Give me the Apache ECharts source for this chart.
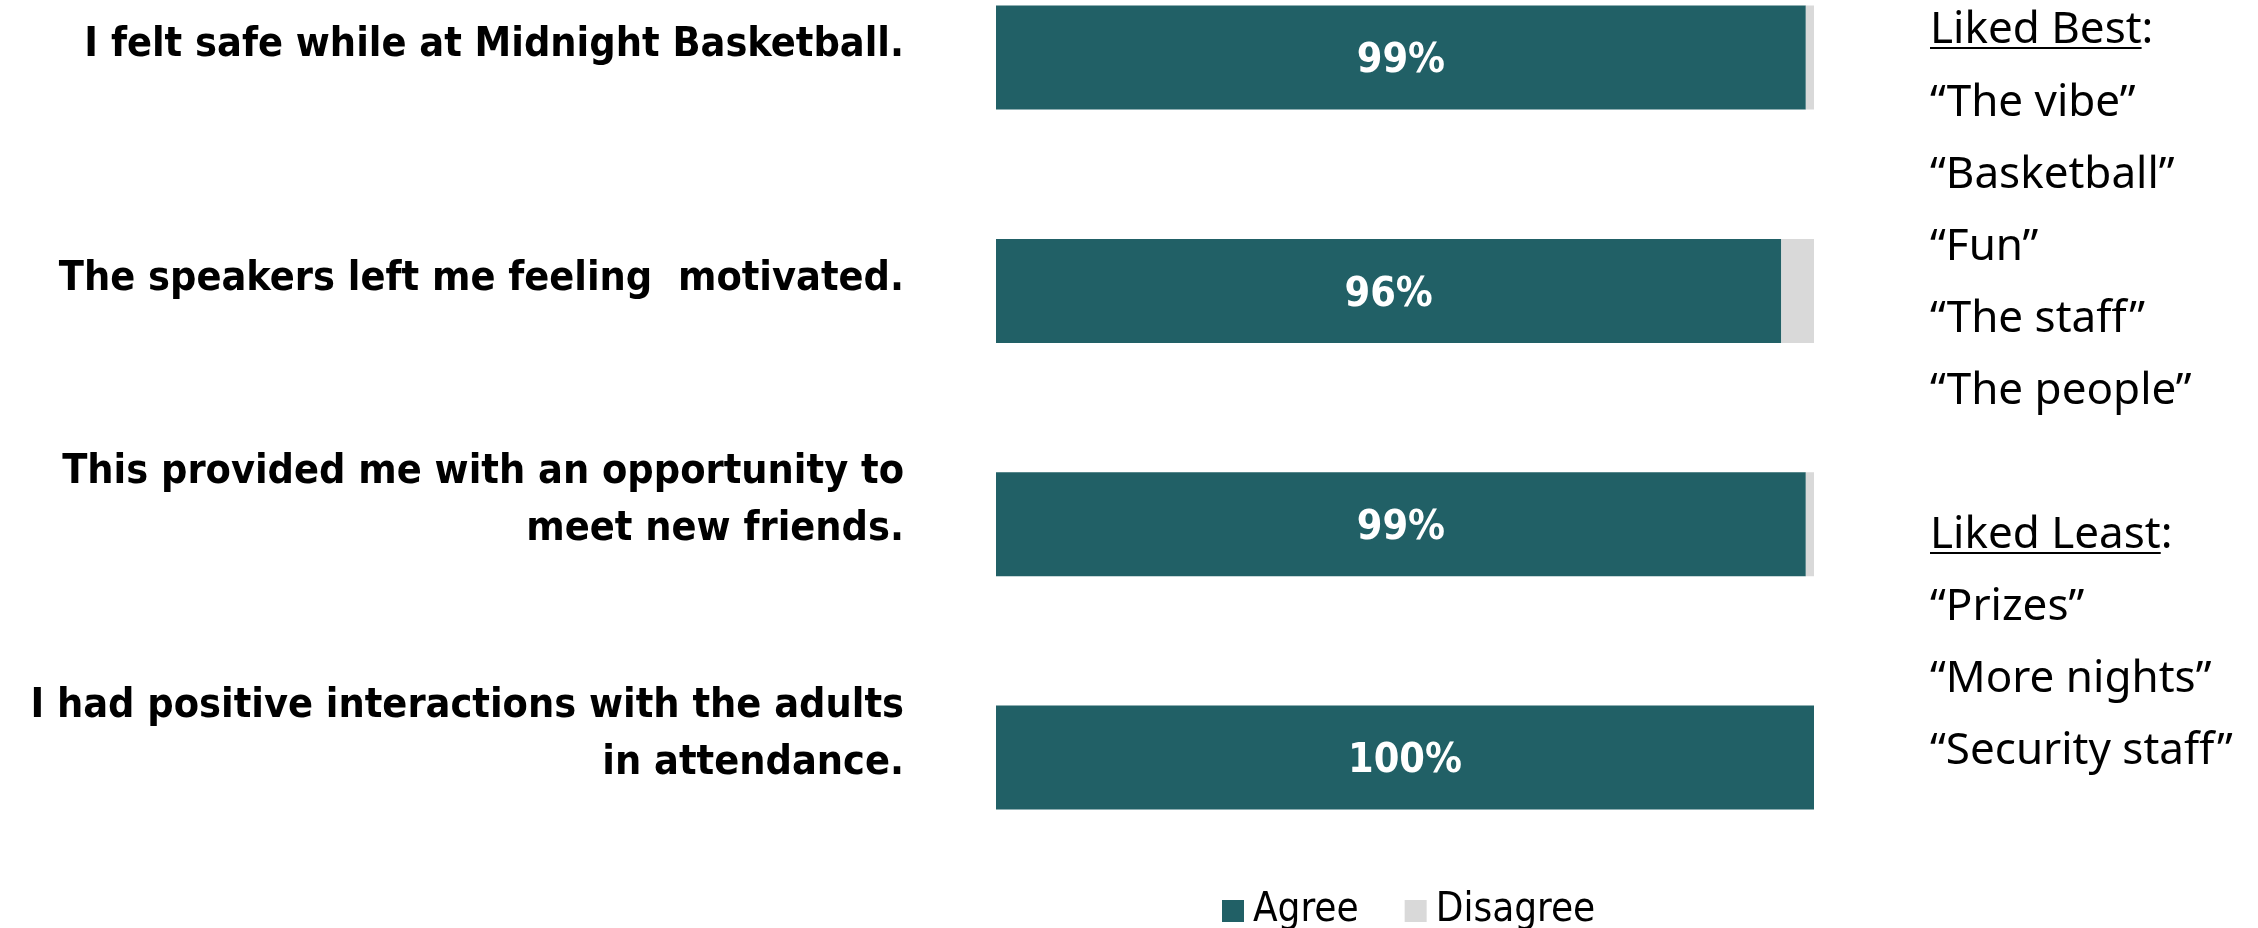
<!DOCTYPE html>
<html>
<head>
<meta charset="utf-8">
<script src="https://cdn.jsdelivr.net/npm/echarts@6/dist/echarts.min.js"></script>
<style>
html,body{margin:0;padding:0;background:#fff;}
#chart{width:2258px;height:928px;}
</style>
</head>
<body>
<div id="chart"></div>
<script>
const categories = [
  "I felt safe while at Midnight Basketball.",
  "The speakers left me feeling  motivated.",
  "This provided me with an opportunity to\nmeet new friends.",
  "I had positive interactions with the adults\nin attendance."
];
const agreeValues = [99, 96, 99, 100];
const disagreeValues = [1, 4, 1, 0];
const seriesNames = ["Agree", "Disagree"];
const likedBestTitle = "Liked Best";
const likedBest = ["“The vibe”", "“Basketball”", "“Fun”", "“The staff”", "“The people”"];
const likedLeastTitle = "Liked Least";
const likedLeast = ["“Prizes”", "“More nights”", "“Security staff”"];

const narrow = "'DejaVu Sans Condensed', 'Liberation Sans Narrow', sans-serif";
const sideFont = "'Noto Sans', 'Open Sans', sans-serif";
const sideSize = 44;

function measure(text, font) {
  const c = document.createElement('canvas').getContext('2d');
  c.font = font;
  return c.measureText(text).width;
}

const chart = echarts.init(document.getElementById('chart'));

const sideX = 1930;
const graphics = [];
function addText(t, yc) {
  graphics.push({
    type: 'text', x: sideX, y: yc,
    style: { text: t, font: sideSize + 'px ' + sideFont, fill: '#000', verticalAlign: 'middle', align: 'left' }
  });
}
function addHeader(title, yc) {
  addText(title + ':', yc);
  const w = measure(title, sideSize + 'px ' + sideFont);
  graphics.push({
    type: 'line', shape: { x1: sideX, y1: yc + 18, x2: sideX + w, y2: yc + 18 },
    style: { stroke: '#000', lineWidth: 2 }
  });
}
function addItems(list, y0) {
  list.forEach((t, i) => addText(t, y0 + i * 72.2));
}
addHeader(likedBestTitle, 30);
addItems(likedBest, 103);
addHeader(likedLeastTitle, 535);
addItems(likedLeast, 607);

chart.setOption({
  animation: false,
  backgroundColor: '#ffffff',
  grid: { left: 996, right: 2258 - 1814, top: 57.6, bottom: 928 - 757.5, containLabel: false },
  xAxis: { type: 'value', min: 0, max: 100, show: false },
  yAxis: {
    type: 'category', data: categories, inverse: true, boundaryGap: false,
    axisLine: { show: false }, axisTick: { show: false }, splitLine: { show: false },
    axisLabel: {
      margin: 92, align: 'right',
      formatter: function (v) {
        const lines = v.split('\n');
        const body = lines.map(l => '{t|' + l + '}').join('\n');
        return body + (lines.length > 1 ? '\n{sd| }' : '\n{ss| }');
      },
      rich: {
        t: { color: '#000', fontSize: 41, fontWeight: 'bold', fontFamily: narrow, lineHeight: 57, align: 'right' },
        ss: { fontSize: 10, lineHeight: 24, align: 'right' },
        sd: { fontSize: 10, lineHeight: 46, align: 'right' }
      }
    }
  },
  legend: {
    data: seriesNames, left: 1217, top: 886, itemWidth: 22, itemHeight: 22, itemGap: 46,
    icon: 'rect',
    textStyle: { fontSize: 40, fontFamily: narrow, color: '#000', padding: [0, 0, 0, 4] }
  },
  series: [
    {
      name: seriesNames[0], type: 'bar', stack: 'total', data: agreeValues, barWidth: 104,
      itemStyle: { color: '#216066' },
      label: {
        show: true, position: 'inside', offset: [0, 4], formatter: '{c}%', color: '#fff',
        fontSize: 41, fontWeight: 'bold', fontFamily: narrow
      }
    },
    {
      name: seriesNames[1], type: 'bar', stack: 'total', data: disagreeValues, barWidth: 104,
      itemStyle: { color: '#D9D9D9' }, label: { show: false }
    }
  ],
  graphic: graphics
});
</script>
</body>
</html>
